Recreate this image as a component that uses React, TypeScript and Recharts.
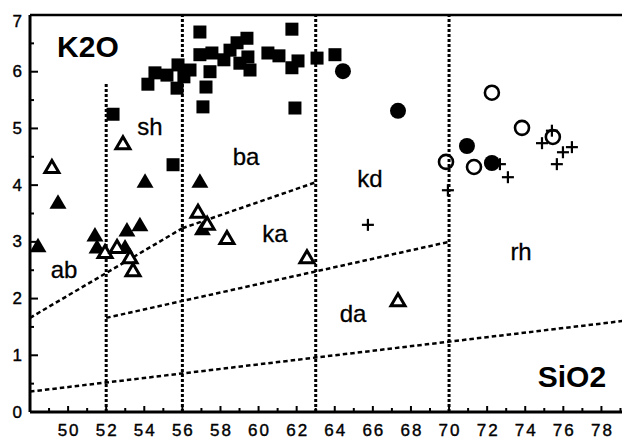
import React from 'react';
import { ScatterChart, Scatter, XAxis, YAxis, ReferenceLine } from 'recharts';

const xTicks = [48, 49, 50, 51, 52, 53, 54, 55, 56, 57, 58, 59, 60, 61, 62, 63, 64, 65, 66, 67, 68, 69, 70, 71, 72, 73, 74, 75, 76, 77, 78, 79];
const xLabelTicks = [50, 52, 54, 56, 58, 60, 62, 64, 66, 68, 70, 72, 74, 76, 78];
const yTicks = [0, 0.5, 1, 1.5, 2, 2.5, 3, 3.5, 4, 4.5, 5, 5.5, 6, 6.5, 7];
const yLabelTicks = [0, 1, 2, 3, 4, 5, 6, 7];

const filledTriangles = [
  { x: 48.42, y: 2.93 }, { x: 49.47, y: 3.7 }, { x: 51.41, y: 3.12 }, { x: 51.52, y: 2.91 },
  { x: 52.99, y: 2.91 }, { x: 53.09, y: 3.21 }, { x: 53.77, y: 3.3 }, { x: 54.04, y: 4.07 },
  { x: 56.92, y: 4.07 }, { x: 57.05, y: 3.23 },
];
const openTriangles = [
  { x: 49.15, y: 4.32 }, { x: 52.88, y: 4.74 }, { x: 51.94, y: 2.82 }, { x: 52.57, y: 2.91 },
  { x: 53.25, y: 2.73 }, { x: 53.41, y: 2.5 }, { x: 56.82, y: 3.53 }, { x: 57.3, y: 3.32 },
  { x: 58.34, y: 3.07 }, { x: 62.54, y: 2.73 }, { x: 67.32, y: 1.97 },
];
const filledSquares = [
  { x: 52.36, y: 5.25 }, { x: 55.51, y: 4.36 }, { x: 54.19, y: 5.78 }, { x: 54.56, y: 5.98 },
  { x: 55.19, y: 5.94 }, { x: 55.72, y: 5.71 }, { x: 55.77, y: 6.12 }, { x: 56.08, y: 5.91 },
  { x: 56.4, y: 6.03 }, { x: 56.92, y: 6.7 }, { x: 56.92, y: 6.3 }, { x: 57.55, y: 6.33 },
  { x: 57.08, y: 5.38 }, { x: 57.24, y: 5.73 }, { x: 57.45, y: 6.0 }, { x: 58.18, y: 6.21 },
  { x: 58.5, y: 6.38 }, { x: 58.87, y: 6.51 }, { x: 59.39, y: 6.59 }, { x: 59.02, y: 6.15 },
  { x: 59.55, y: 6.03 }, { x: 59.44, y: 6.26 }, { x: 60.49, y: 6.33 }, { x: 61.07, y: 6.28 },
  { x: 61.75, y: 6.75 }, { x: 61.91, y: 5.36 }, { x: 61.75, y: 6.07 }, { x: 62.07, y: 6.19 },
  { x: 63.07, y: 6.24 }, { x: 64.01, y: 6.3 },
];
const filledCircles = [
  { x: 64.43, y: 6.01 }, { x: 67.32, y: 5.31 }, { x: 70.94, y: 4.69 }, { x: 72.25, y: 4.39 },
];
const openCircles = [
  { x: 69.84, y: 4.41 }, { x: 71.31, y: 4.32 }, { x: 72.25, y: 5.63 }, { x: 73.83, y: 5.01 },
  { x: 75.45, y: 4.85 },
];
const crosses = [
  { x: 69.94, y: 3.91 }, { x: 72.67, y: 4.37 }, { x: 73.09, y: 4.14 }, { x: 74.88, y: 4.74 },
  { x: 75.4, y: 4.96 }, { x: 75.66, y: 4.37 }, { x: 75.98, y: 4.58 }, { x: 76.45, y: 4.67 },
  { x: 65.74, y: 3.3 },
];

const verticalBounds = [
  [{ x: 52, y: 0 }, { x: 52, y: 5.8 }],
  [{ x: 56, y: 0 }, { x: 56, y: 7 }],
  [{ x: 63, y: 0 }, { x: 63, y: 7 }],
  [{ x: 70, y: 0 }, { x: 70, y: 7 }],
];
const diagonalBounds = [
  [{ x: 48, y: 1.66 }, { x: 56, y: 3.24 }],
  [{ x: 56, y: 3.24 }, { x: 63, y: 4.05 }],
  [{ x: 52, y: 1.66 }, { x: 70, y: 3.0 }],
  [{ x: 48, y: 0.36 }, { x: 79.5, y: 1.62 }],
];

const regionLabels = [
  { x: 54.3, y: 4.88, text: 'sh' },
  { x: 59.34, y: 4.36, text: 'ba' },
  { x: 49.79, y: 2.36, text: 'ab' },
  { x: 60.86, y: 3.0, text: 'ka' },
  { x: 65.85, y: 3.97, text: 'kd' },
  { x: 64.96, y: 1.59, text: 'da' },
  { x: 73.78, y: 2.68, text: 'rh' },
];
const axisTitles = [
  { x: 51.04, y: 6.26, text: 'K2O' },
  { x: 76.45, y: 0.44, text: 'SiO2' },
];

const FONT = '"Liberation Sans", Arial, Helvetica, sans-serif';

const XTick = (props: any) => {
  const { x, y, payload } = props;
  const v = payload.value;
  const major = v % 2 === 0;
  return (
    <g>
      <line x1={x} y1={y} x2={x} y2={y - (major ? 6 : 4)} stroke="#000" strokeWidth={2} />
      {xLabelTicks.includes(v) && (
        <text x={x + 1} y={y + 24} textAnchor="middle" fontSize={17} fontFamily={FONT} letterSpacing={2} fill="#000" stroke="#000" strokeWidth={0.4}>
          {v}
        </text>
      )}
    </g>
  );
};

const YTick = (props: any) => {
  const { x, y, payload } = props;
  const v = payload.value;
  const major = Number.isInteger(v);
  return (
    <g>
      <line x1={x} y1={y} x2={x + (major ? 8 : 4)} y2={y} stroke="#000" strokeWidth={2} />
      {yLabelTicks.includes(v) && (
        <text x={x - 8} y={v === 7 ? y + 6 : y} textAnchor="end" dominantBaseline="central" fontSize={17} fontFamily={FONT} fill="#000" stroke="#000" strokeWidth={0.4}>
          {v}
        </text>
      )}
    </g>
  );
};

const Square = (p: any) => <rect x={p.cx - 6.5} y={p.cy - 6.5} width={13} height={13} fill="#000" />;
const TriFilled = (p: any) => (
  <polygon points={`${p.cx},${p.cy - 8} ${p.cx - 8.5},${p.cy + 6.5} ${p.cx + 8.5},${p.cy + 6.5}`} fill="#000" />
);
const TriOpen = (p: any) => (
  <polygon points={`${p.cx},${p.cy - 6.5} ${p.cx - 7},${p.cy + 5.5} ${p.cx + 7},${p.cy + 5.5}`} fill="#fff" stroke="#000" strokeWidth={3} strokeLinejoin="miter" />
);
const DotFilled = (p: any) => <circle cx={p.cx} cy={p.cy} r={8} fill="#000" />;
const DotOpen = (p: any) => <circle cx={p.cx} cy={p.cy} r={7} fill="none" stroke="#000" strokeWidth={2.6} />;
const Cross = (p: any) => (
  <g stroke="#000" strokeWidth={2.2}>
    <line x1={p.cx - 6} y1={p.cy} x2={p.cx + 6} y2={p.cy} />
    <line x1={p.cx} y1={p.cy - 6} x2={p.cx} y2={p.cy + 6} />
  </g>
);
const RegionText = (p: any) => (
  <text x={p.cx} y={p.cy} textAnchor="middle" fontSize={24} fontFamily={FONT} fill="#000" stroke="#000" strokeWidth={0.3}>
    {p.payload.text}
  </text>
);
const TitleText = (p: any) => (
  <text x={p.cx} y={p.cy} textAnchor="middle" fontSize={30} fontWeight="bold" fontFamily={FONT} fill="#000">
    {p.payload.text}
  </text>
);

export default function App() {
  return (
    <div style={{ width: 622, height: 431, background: '#fff' }}>
      <ScatterChart width={622} height={431} margin={{ top: 7, right: 0, bottom: 0, left: 0 }} style={{ fontFamily: FONT }}>
        <XAxis
          type="number"
          dataKey="x"
          domain={[48, 79.5]}
          allowDataOverflow
          ticks={xTicks}
          interval={0}
          tickSize={0}
          tickMargin={0}
          tickLine={false}
          tick={<XTick />}
          height={27}
          axisLine={{ stroke: '#000', strokeWidth: 3 }}
        />
        <YAxis
          type="number"
          dataKey="y"
          domain={[0, 7]}
          allowDataOverflow
          ticks={yTicks}
          interval={0}
          tickSize={0}
          tickMargin={0}
          tickLine={false}
          tick={<YTick />}
          width={22}
          axisLine={{ stroke: '#000', strokeWidth: 3 }}
        />
        <ReferenceLine y={7} stroke="#000" strokeWidth={2.5} ifOverflow="visible" />
        {verticalBounds.map((seg, i) => (
          <ReferenceLine key={'v' + i} segment={seg} stroke="#000" strokeWidth={3} strokeDasharray="3 2" ifOverflow="visible" />
        ))}
        {diagonalBounds.map((seg, i) => (
          <ReferenceLine key={'d' + i} segment={seg} stroke="#000" strokeWidth={2.5} strokeDasharray="4.5 3" ifOverflow="visible" />
        ))}
        <Scatter data={filledSquares} shape={Square} isAnimationActive={false} />
        <Scatter data={filledTriangles} shape={TriFilled} isAnimationActive={false} />
        <Scatter data={openTriangles} shape={TriOpen} isAnimationActive={false} />
        <Scatter data={filledCircles} shape={DotFilled} isAnimationActive={false} />
        <Scatter data={openCircles} shape={DotOpen} isAnimationActive={false} />
        <Scatter data={crosses} shape={Cross} isAnimationActive={false} />
        <Scatter data={regionLabels} shape={RegionText} isAnimationActive={false} />
        <Scatter data={axisTitles} shape={TitleText} isAnimationActive={false} />
      </ScatterChart>
    </div>
  );
}
